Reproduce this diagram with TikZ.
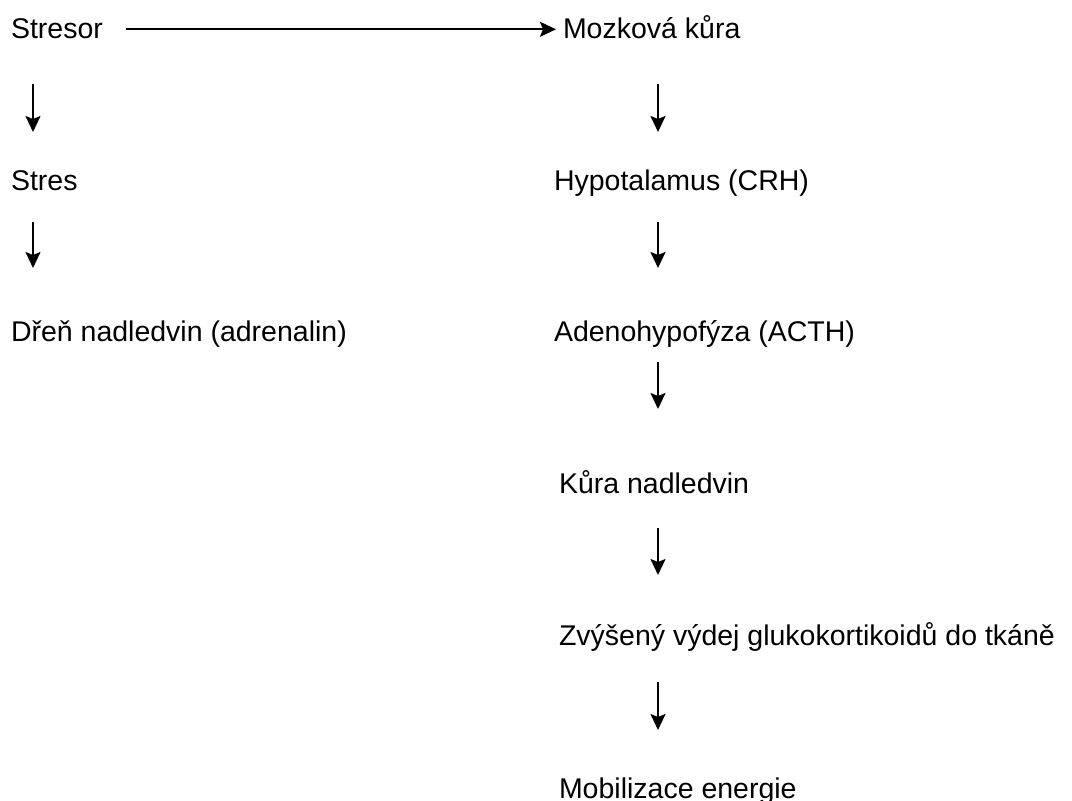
\documentclass[tikz,border=0pt]{standalone}
\usepackage{fontspec}
\setmainfont{Liberation Sans}
\usetikzlibrary{arrows.meta, calc, positioning}

\begin{document}
\begin{tikzpicture}[x=0.5pt, y=-0.5pt, >={Stealth[length=8pt, width=7.5pt, inset=1.5pt]}, line width=1pt, font=\fontsize{14.25}{17}\selectfont,
  lbl/.style={inner sep=0pt}]

\useasboundingbox (0,0) rectangle (1072,800);

\coordinate (lcol) at (33,0);
\coordinate (rcol) at (658,0);

\node[lbl, anchor=base west] (stresor) at (10,38) {Stresor};
\node[lbl, right=276pt of stresor.base west, anchor=base west] (mozek) {Mozková kůra};

\node[lbl, below=76pt of stresor.base west, anchor=base west] (stres) {Stres};
\node[lbl, below=75.5pt of stres.base west, anchor=base west] (dren) {Dřeň nadledvin (adrenalin)};

\node[lbl, below=76pt of mozek.base west, anchor=base west, xshift=-4.5pt] (hypo) {Hypotalamus (CRH)};
\node[lbl, below=75.5pt of hypo.base west, anchor=base west] (adeno) {Adenohypofýza (ACTH)};
\node[lbl, below=76pt of adeno.base west, anchor=base west, xshift=2.5pt] (kura) {Kůra nadledvin};
\node[lbl, below=76pt of kura.base west, anchor=base west] (zvys) {Zvýšený výdej glukokortikoidů do tkáně};
\node[lbl, below=76.5pt of zvys.base west, anchor=base west] (mobil) {Mobilizace energie};

\draw[->] ($(stresor.base east)+(22,-8.7)$) -- ($(mozek.base west)+(-6,-8.7)$);

\draw[->] ($(stresor.base -| lcol)+(0,46)$) -- ($(stres.base -| lcol)+(0,-58)$);
\draw[->] ($(stres.base -| lcol)+(0,32)$) -- ($(dren.base -| lcol)+(0,-73)$);

\draw[->] ($(mozek.base -| rcol)+(0,46)$) -- ($(hypo.base -| rcol)+(0,-58)$);
\draw[->] ($(hypo.base -| rcol)+(0,32)$) -- ($(adeno.base -| rcol)+(0,-73)$);
\draw[->] ($(adeno.base -| rcol)+(0,21)$) -- ($(kura.base -| rcol)+(0,-84)$);
\draw[->] ($(kura.base -| rcol)+(0,35)$) -- ($(zvys.base -| rcol)+(0,-70)$);
\draw[->] ($(zvys.base -| rcol)+(0,37)$) -- ($(mobil.base -| rcol)+(0,-68)$);

\end{tikzpicture}
\end{document}
